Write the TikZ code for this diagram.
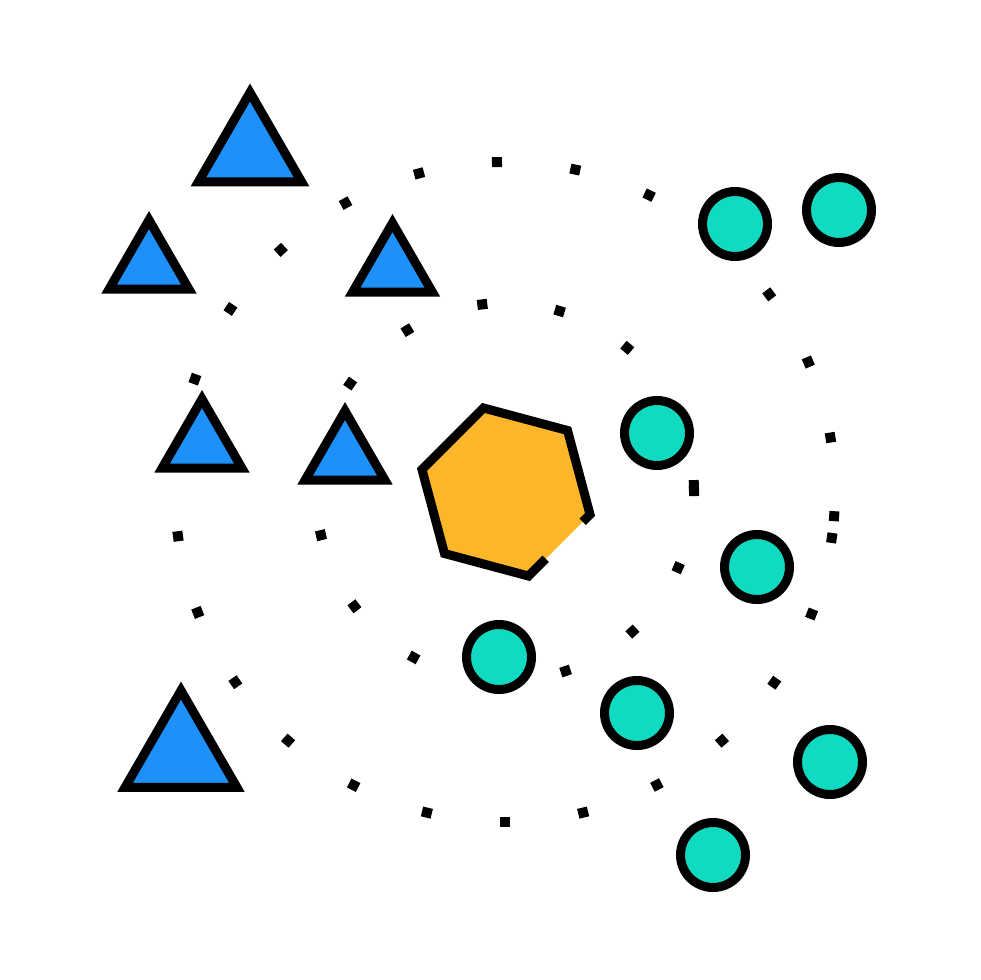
\documentclass[tikz,border=0pt]{standalone}
\usetikzlibrary{shapes.geometric,calc}

\definecolor{triblue}{RGB}{30,144,250}
\definecolor{bubbleteal}{RGB}{16,218,194}
\definecolor{hexorange}{RGB}{252,182,42}

\tikzset{
  outline/.style={draw=black, line width=9pt, inner sep=0pt},
  tri/.style={outline, regular polygon, regular polygon sides=3, fill=triblue, line join=miter},
  bubble/.style={outline, circle, fill=bubbleteal, minimum size=65pt},
  speck/.style={rectangle, fill=black, minimum size=10pt, inner sep=0pt},
}

\begin{document}
\begin{tikzpicture}[x=1pt, y=-1pt]
  \useasboundingbox[fill=white] (0,0) rectangle (980,980);

  % dotted orbits round the hexagon
  \begin{scope}[shift={(505,492)}]
    \foreach \a [count=\i] in {268.6,282.3,295.9,323.2,336.8,350.5,4.2,8.0,21.7,35.3,48.9,62.6,76.3,90,103.7,117.3,131.1,144.8,158.6,172.3,200.0,213.7,227.2,241.1,254.9}
      \node[speck, rotate=-\a] (outer\i) at (\a:330) {};
    \foreach \a [count=\i] in {263.1,286.8,310.3,357.9,359.7,23.6,47.6,71.3,118.9,142.8,166.8,215.0,238.9}
      \node[speck, rotate=-\a] (inner\i) at (\a:189) {};
  \end{scope}

  % triangles
  \node[tri, minimum size=119pt] (tribig) at (250,152) {};
  \node[tri, minimum size=92pt] (trileft) at (149,266) {};
  \node[tri, minimum size=92pt] (triright) at (392.5,269) {};
  \node[tri, minimum size=92pt] (trimidleft) at (202,445) {};
  \node[tri, minimum size=92pt] (trimid) at (345,457) {};
  \node[tri, minimum size=129pt] (trilow) at (181,755) {};

  % circles
  \node[bubble] (bubbletopa) at (735,224) {};
  \node[bubble] (bubbletopb) at (839,210) {};
  \node[bubble] (bubblea) at (657,433) {};
  \node[bubble] (bubbleb) at (757,567) {};
  \node[bubble] (bubblec) at (830,762) {};
  \node[bubble] (bubbled) at (713,855) {};
  \node[bubble] (bubblee) at (499,657) {};
  \node[bubble] (bubblef) at (637,713) {};

  % hexagon with a broken edge
  \begin{scope}[shift={(506,492)}]
    \coordinate (hr) at (15:87);
    \coordinate (hb) at (75:87);
    \coordinate (hbl) at (135:87);
    \coordinate (hl) at (195:87);
    \coordinate (htl) at (255:87);
    \coordinate (htr) at (315:87);
  \end{scope}
  \fill[hexorange] (hr) -- (hb) -- (hbl) -- (hl) -- (htl) -- (htr) -- cycle;
  \draw[line width=9pt, line join=miter]
    ($(hr)!0.72!(hb)$) -- (hb) -- (hbl) -- (hl) -- (htl) -- (htr) -- (hr) -- ($(hr)!0.12!(hb)$);
\end{tikzpicture}
\end{document}
